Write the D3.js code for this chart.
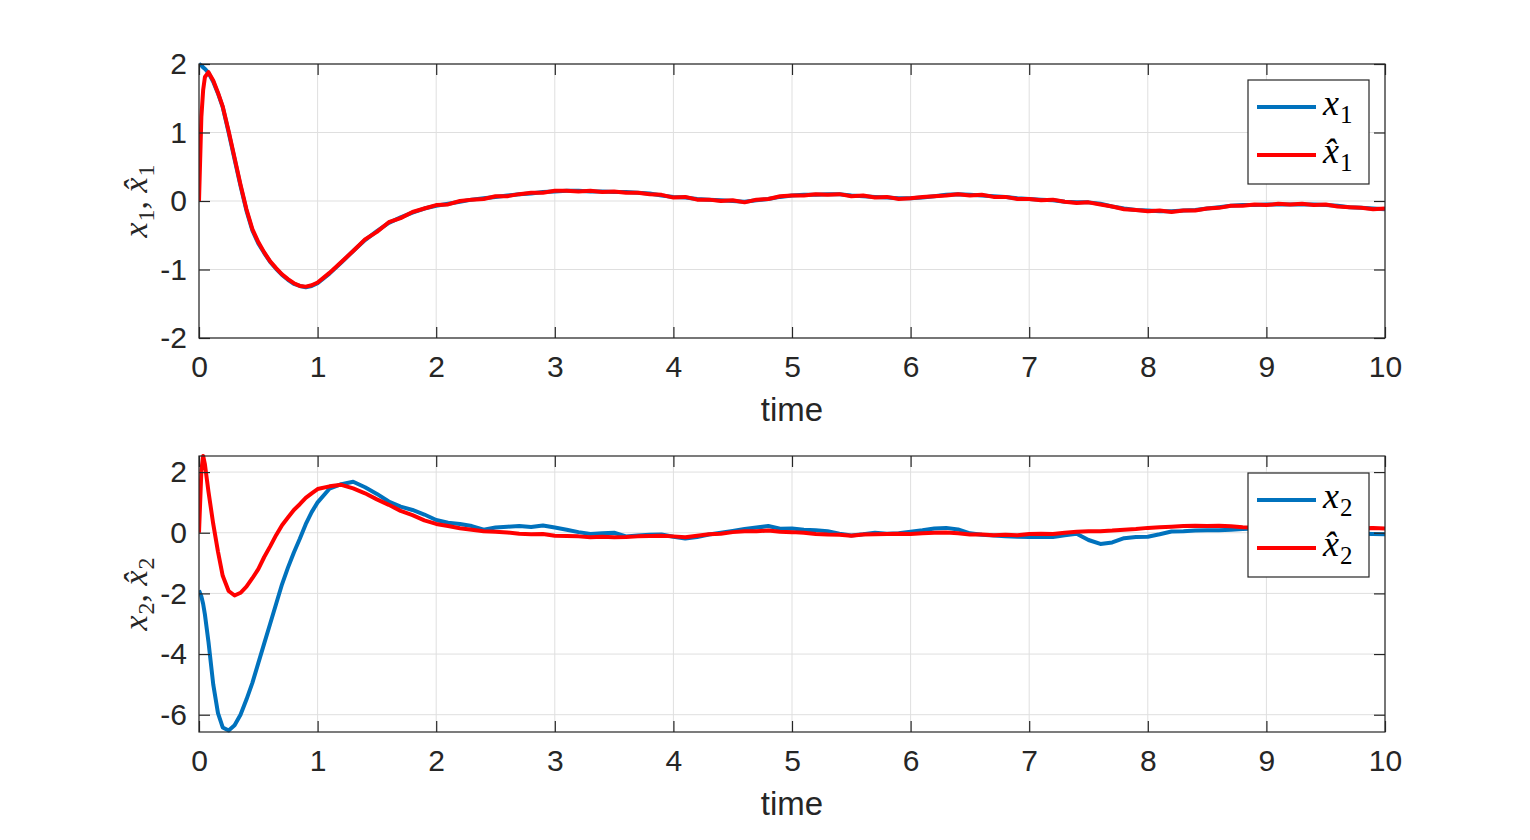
<!DOCTYPE html>
<html>
<head>
<meta charset="utf-8">
<script src="https://cdn.jsdelivr.net/npm/d3@7"></script>
<style>
  html, body { margin: 0; padding: 0; background: #fff; }
  svg { display: block; }
  .math { font-family: "Liberation Serif", "DejaVu Serif", serif; }
</style>
</head>
<body>
<svg id="chart" width="1530" height="840"></svg>
<script>
// ---------------- DATA ----------------
const T = [0, 0.02, 0.035, 0.05, 0.08, 0.12, 0.16, 0.2, 0.25, 0.3, 0.35, 0.4, 0.45, 0.5, 0.55, 0.6, 0.65, 0.7, 0.75, 0.8, 0.85, 0.9, 0.95, 1.0,
  1.1, 1.2, 1.3, 1.4, 1.5, 1.6, 1.7, 1.8, 1.9, 2.0,
  2.1, 2.2, 2.3, 2.4, 2.5, 2.6, 2.7, 2.8, 2.9, 3.0,
  3.1, 3.2, 3.3, 3.4, 3.5, 3.6, 3.7, 3.8, 3.9, 4.0,
  4.1, 4.2, 4.3, 4.4, 4.5, 4.6, 4.7, 4.8, 4.9, 5.0,
  5.1, 5.2, 5.3, 5.4, 5.5, 5.6, 5.7, 5.8, 5.9, 6.0,
  6.1, 6.2, 6.3, 6.4, 6.5, 6.6, 6.7, 6.8, 6.9, 7.0,
  7.1, 7.2, 7.3, 7.4, 7.5, 7.6, 7.7, 7.8, 7.9, 8.0,
  8.1, 8.2, 8.3, 8.4, 8.5, 8.6, 8.7, 8.8, 8.9, 9.0,
  9.1, 9.2, 9.3, 9.4, 9.5, 9.6, 9.7, 9.8, 9.9, 10.0];

const X1 = [2.00, 1.98, 1.95, 1.93, 1.87, 1.74, 1.57, 1.37, 1.00, 0.61, 0.22, -0.14, -0.43, -0.62, -0.76, -0.89, -0.99, -1.08, -1.15, -1.21, -1.24, -1.26, -1.24, -1.20,
  -1.06, -0.90, -0.73, -0.57, -0.44, -0.32, -0.24, -0.17, -0.11, -0.07,
  -0.04, -0.01, 0.02, 0.04, 0.06, 0.08, 0.10, 0.11, 0.13, 0.14,
  0.15, 0.15, 0.14, 0.14, 0.13, 0.13, 0.12, 0.11, 0.08, 0.06,
  0.05, 0.03, 0.02, 0.01, 0.00, -0.01, 0.01, 0.03, 0.06, 0.08,
  0.09, 0.09, 0.10, 0.10, 0.08, 0.07, 0.06, 0.05, 0.04, 0.04,
  0.05, 0.07, 0.09, 0.10, 0.09, 0.08, 0.07, 0.06, 0.04, 0.03,
  0.02, 0.01, -0.01, -0.02, -0.02, -0.04, -0.08, -0.11, -0.13, -0.14,
  -0.15, -0.15, -0.14, -0.13, -0.11, -0.09, -0.07, -0.06, -0.06, -0.05,
  -0.05, -0.05, -0.05, -0.05, -0.06, -0.07, -0.09, -0.10, -0.11, -0.12];

const X1HAT = [0.00, 1.23, 1.62, 1.81, 1.88, 1.76, 1.58, 1.38, 1.02, 0.63, 0.24, -0.12, -0.41, -0.60, -0.75, -0.88, -0.98, -1.07, -1.14, -1.20, -1.24, -1.25, -1.23, -1.19,
  -1.05, -0.89, -0.73, -0.56, -0.45, -0.31, -0.25, -0.16, -0.11, -0.06,
  -0.05, 0.00, 0.02, 0.03, 0.07, 0.07, 0.10, 0.12, 0.12, 0.15,
  0.15, 0.14, 0.15, 0.13, 0.14, 0.12, 0.12, 0.10, 0.09, 0.05,
  0.06, 0.02, 0.02, 0.00, 0.01, -0.02, 0.02, 0.03, 0.07, 0.08,
  0.08, 0.10, 0.09, 0.10, 0.07, 0.08, 0.05, 0.06, 0.03, 0.04,
  0.06, 0.07, 0.08, 0.10, 0.08, 0.09, 0.06, 0.06, 0.03, 0.03,
  0.01, 0.02, -0.01, -0.03, -0.02, -0.05, -0.08, -0.12, -0.13, -0.15,
  -0.14, -0.16, -0.14, -0.14, -0.11, -0.10, -0.07, -0.07, -0.05, -0.06,
  -0.04, -0.05, -0.04, -0.06, -0.05, -0.08, -0.09, -0.10, -0.12, -0.11];

const X2 = [-1.90, -2.10, -2.35, -2.70, -3.60, -5.00, -5.95, -6.42, -6.52, -6.35, -6.00, -5.50, -4.95, -4.30, -3.65, -3.00, -2.35, -1.70, -1.15, -0.65, -0.20, 0.28, 0.68, 1.00,
  1.45, 1.60, 1.68, 1.50, 1.28, 1.03, 0.86, 0.75, 0.60, 0.42,
  0.33, 0.29, 0.22, 0.10, 0.17, 0.20, 0.22, 0.19, 0.24, 0.17,
  0.10, 0.02, -0.04, -0.02, 0.00, -0.12, -0.09, -0.07, -0.06, -0.13,
  -0.19, -0.14, -0.06, 0.00, 0.06, 0.12, 0.17, 0.22, 0.13, 0.14,
  0.10, 0.08, 0.05, -0.03, -0.09, -0.05, 0.00, -0.03, -0.02, 0.03,
  0.08, 0.14, 0.16, 0.11, -0.02, -0.07, -0.09, -0.12, -0.13, -0.14,
  -0.13, -0.14, -0.08, -0.03, -0.24, -0.37, -0.32, -0.18, -0.14, -0.13,
  -0.05, 0.04, 0.05, 0.07, 0.08, 0.08, 0.10, 0.12, 0.14, 0.12,
  0.10, 0.08, 0.06, 0.04, 0.02, 0.00, -0.02, -0.03, -0.04, -0.05];

const X2HAT = [0.00, 2.05, 2.53, 2.25, 1.35, 0.29, -0.62, -1.42, -1.92, -2.07, -1.98, -1.78, -1.50, -1.20, -0.80, -0.45, -0.08, 0.25, 0.50, 0.75, 0.94, 1.15, 1.30, 1.44,
  1.53, 1.58, 1.46, 1.30, 1.10, 0.92, 0.72, 0.58, 0.41, 0.29,
  0.22, 0.15, 0.10, 0.05, 0.03, 0.01, -0.03, -0.05, -0.04, -0.10,
  -0.11, -0.12, -0.15, -0.13, -0.15, -0.14, -0.12, -0.11, -0.10, -0.12,
  -0.15, -0.10, -0.05, -0.03, 0.02, 0.05, 0.05, 0.07, 0.03, 0.02,
  0.00, -0.04, -0.06, -0.07, -0.10, -0.06, -0.05, -0.04, -0.03, -0.04,
  -0.02, 0.00, 0.01, -0.02, -0.06, -0.06, -0.08, -0.07, -0.08, -0.04,
  -0.03, -0.04, 0.00, 0.03, 0.05, 0.05, 0.07, 0.10, 0.12, 0.16,
  0.18, 0.20, 0.22, 0.23, 0.22, 0.23, 0.21, 0.18, 0.17, 0.16,
  0.16, 0.15, 0.15, 0.14, 0.14, 0.15, 0.14, 0.15, 0.16, 0.14];

const XTICKS = [0, 1, 2, 3, 4, 5, 6, 7, 8, 9, 10];
const Y1TICKS = [-2, -1, 0, 1, 2];
const Y2TICKS = [-6, -4, -2, 0, 2];
const XLABEL = "time";

// ---------------- CHART ----------------
const svg = d3.select("#chart");
svg.append("rect").attr("width", 1530).attr("height", 840).attr("fill", "#fff");

const LEFT = 199, RIGHT = 1385;
const x = d3.scaleLinear().domain([0, 10]).range([LEFT, RIGHT]);
const AX = "#262626", GRID = "#dfdfdf";
const BLUE = "#0072BD", RED = "#FF0000";
const TICKFONT = "'Liberation Sans', Arial, Helvetica, sans-serif";
const LW = 4;

const panels = [
  { top: 64, bottom: 338, domain: [-2, 2], yticks: Y1TICKS, a: X1, b: X1HAT, sub: "1", legendTop: 80 },
  { top: 456, bottom: 732, domain: [-6.57, 2.53], yticks: Y2TICKS, a: X2, b: X2HAT, sub: "2", legendTop: 473 }
];

// math-like label: italic x (optionally with a hat) and an upright subscript
function mathX(parent, hat, sub, size, subSize, subDy) {
  const t = parent.append("tspan").attr("font-style", "italic").text("x");
  if (hat) t.text("x\u0302");
  parent.append("tspan").attr("font-size", subSize).attr("dx", 1).attr("dy", subDy).text(sub);
}

panels.forEach((p, pi) => {
  const y = d3.scaleLinear().domain(p.domain).range([p.bottom, p.top]);
  const g = svg.append("g");
  const W = RIGHT - LEFT, H = p.bottom - p.top;

  // grid
  g.append("g").selectAll("line").data(XTICKS).join("line")
    .attr("x1", d => x(d)).attr("x2", d => x(d))
    .attr("y1", p.top).attr("y2", p.bottom)
    .attr("stroke", GRID).attr("stroke-width", 1);
  g.append("g").selectAll("line").data(p.yticks).join("line")
    .attr("x1", LEFT).attr("x2", RIGHT)
    .attr("y1", d => y(d)).attr("y2", d => y(d))
    .attr("stroke", GRID).attr("stroke-width", 1);

  // data lines
  const clipId = "clip" + pi;
  svg.append("defs").append("clipPath").attr("id", clipId)
    .append("rect").attr("x", LEFT).attr("y", p.top - 2).attr("width", W).attr("height", H + 4);
  const line = d3.line().x((d, i) => x(T[i])).y(d => y(d));
  const n = Math.min(T.length, p.a.length, p.b.length);
  g.append("path").datum(p.a.slice(0, n)).attr("d", line)
    .attr("fill", "none").attr("stroke", BLUE).attr("stroke-width", LW)
    .attr("stroke-linejoin", "round").attr("clip-path", `url(#${clipId})`);
  g.append("path").datum(p.b.slice(0, n)).attr("d", line)
    .attr("fill", "none").attr("stroke", RED).attr("stroke-width", LW)
    .attr("stroke-linejoin", "round").attr("clip-path", `url(#${clipId})`);

  // axes (ticks inward on all sides)
  const fmt = d => String(d);
  const xb = g.append("g").attr("transform", `translate(0,${p.bottom})`)
    .call(d3.axisBottom(x).tickValues(XTICKS).tickSizeInner(-11).tickSizeOuter(0).tickPadding(18).tickFormat(fmt));
  const xt = g.append("g").attr("transform", `translate(0,${p.top})`)
    .call(d3.axisTop(x).tickValues(XTICKS).tickSizeInner(-11).tickSizeOuter(0).tickFormat(""));
  const yl = g.append("g").attr("transform", `translate(${LEFT},0)`)
    .call(d3.axisLeft(y).tickValues(p.yticks).tickSizeInner(-11).tickSizeOuter(0).tickPadding(12).tickFormat(fmt));
  const yr = g.append("g").attr("transform", `translate(${RIGHT},0)`)
    .call(d3.axisRight(y).tickValues(p.yticks).tickSizeInner(-11).tickSizeOuter(0).tickFormat(""));
  [xb, xt, yl, yr].forEach(a => {
    a.select(".domain").remove();
    a.selectAll(".tick line").attr("stroke", AX).attr("stroke-width", 1.2);
    a.selectAll(".tick text").attr("fill", AX).attr("font-family", TICKFONT).attr("font-size", 30);
  });
  // frame
  g.append("rect").attr("x", LEFT).attr("y", p.top).attr("width", W).attr("height", H)
    .attr("fill", "none").attr("stroke", AX).attr("stroke-width", 1.2);

  // x label
  g.append("text").attr("x", (LEFT + RIGHT) / 2).attr("y", p.bottom + 83)
    .attr("text-anchor", "middle").attr("fill", AX)
    .attr("font-family", TICKFONT).attr("font-size", 33).text(XLABEL);

  // y label (math)
  const ylab = g.append("text").attr("class", "math")
    .attr("transform", `translate(147,${(p.top + p.bottom) / 2}) rotate(-90)`)
    .attr("text-anchor", "middle").attr("fill", AX).attr("font-size", 34);
  mathX(ylab, false, p.sub, 34, 24, 7);
  ylab.append("tspan").attr("dy", -7).text(", ");
  mathX(ylab, true, p.sub, 34, 24, 7);

  // legend
  const lx = 1248, ly = p.legendTop, lw = 121, lh = 104;
  const lg = g.append("g");
  lg.append("rect").attr("x", lx).attr("y", ly).attr("width", lw).attr("height", lh)
    .attr("fill", "#fff").attr("stroke", AX).attr("stroke-width", 1.2);
  const items = [
    { color: BLUE, hat: false, dy: 27 },
    { color: RED, hat: true, dy: 75 }
  ];
  items.forEach(it => {
    const cy = ly + it.dy;
    lg.append("line").attr("x1", lx + 9).attr("x2", lx + 68).attr("y1", cy).attr("y2", cy)
      .attr("stroke", it.color).attr("stroke-width", LW);
    const t = lg.append("text").attr("class", "math").attr("x", lx + 75).attr("y", cy + 8)
      .attr("fill", "#000").attr("font-size", 36);
    mathX(t, it.hat, p.sub, 36, 25, 8);
  });
});
</script>
</body>
</html>
